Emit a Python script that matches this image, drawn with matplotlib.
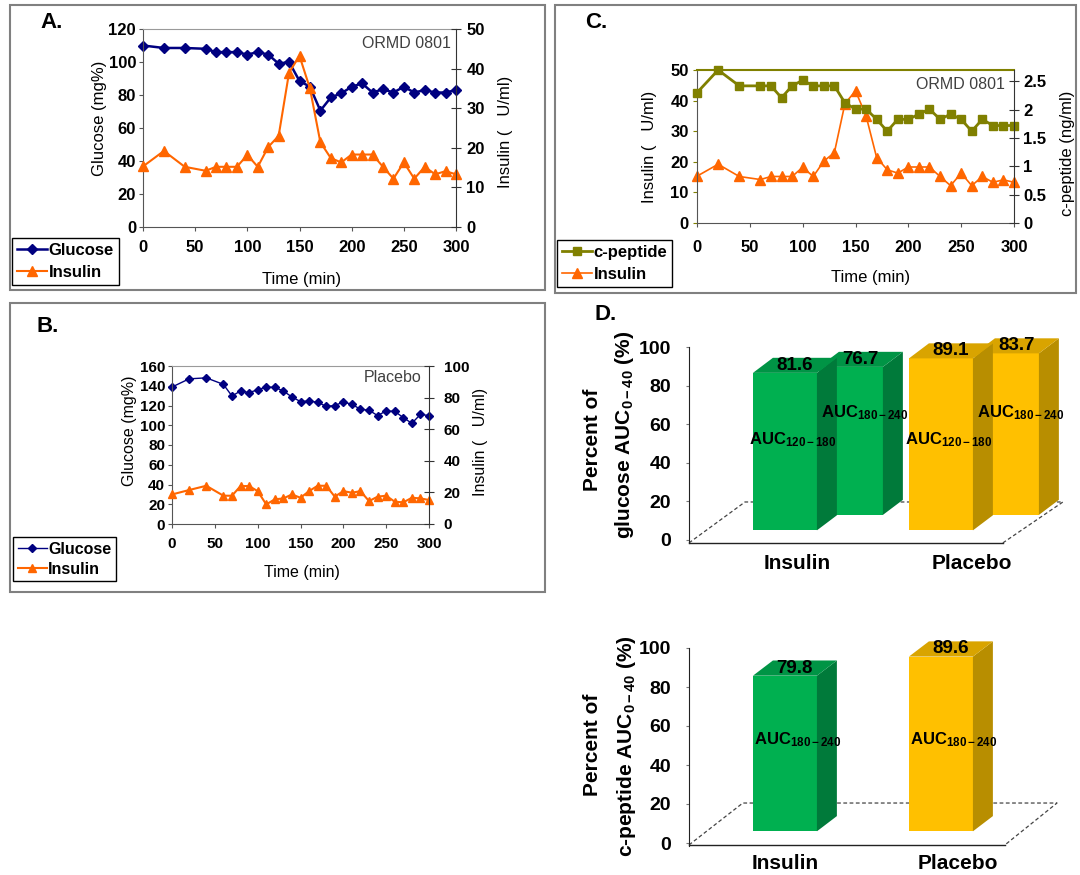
import matplotlib
matplotlib.use('Agg')
import matplotlib.pyplot as plt
from matplotlib.patches import Polygon, Rectangle

plt.rcParams['font.family'] = ['Liberation Sans', 'DejaVu Sans']
plt.rcParams['font.weight'] = 'bold'
plt.rcParams['mathtext.fontset'] = 'custom'
plt.rcParams['mathtext.rm'] = 'Liberation Sans'
plt.rcParams['mathtext.bf'] = 'Liberation Sans:bold'
plt.rcParams['mathtext.it'] = 'Liberation Sans:italic'

# ---- dados ----
time = [0, 20, 40, 60, 70, 80, 90, 100, 110, 120, 130, 140, 150, 160, 170,
        180, 190, 200, 210, 220, 230, 240, 250, 260, 270, 280, 290, 300]

glucose_ormd = [110, 108.5, 108.5, 108, 106, 106, 106, 104.5, 106, 104.5, 99, 100, 88.5, 85, 70.5,
                78.5, 81, 85, 87, 81.5, 83.5, 81.5, 85, 81.5, 83, 81.5, 81.5, 83]
insulin_ormd = [15.3, 19.2, 15.2, 14.2, 15.2, 15.2, 15.2, 18.2, 15.2, 20.2, 23, 39, 43.2, 35, 21.4,
                17.4, 16.3, 18.3, 18.3, 18.3, 15.2, 12.2, 16.3, 12.2, 15.2, 13.3, 14.1, 13.3]
cpeptide_ormd = [2.30, 2.70, 2.42, 2.42, 2.42, 2.21, 2.42, 2.52, 2.42, 2.42, 2.42, 2.12, 2.01, 2.01, 1.83,
                 1.62, 1.83, 1.83, 1.92, 2.01, 1.83, 1.92, 1.83, 1.62, 1.83, 1.72, 1.72, 1.72]

glucose_placebo = [138.7, 147, 148, 141.4, 129.6, 134.7, 133, 136, 138.7, 138.4, 134.7, 128.6, 124, 124.6, 123.2,
                   119.2, 119.9, 123.6, 121.2, 116.2, 115.2, 109.8, 114.5, 114.1, 107.7, 102, 111, 109.8]
insulin_placebo = [18.7, 21.5, 24.2, 17.9, 17.9, 24, 24, 20.8, 12.4, 15.6, 16.2, 18.7, 16.6, 20.8, 24.2,
                   24.2, 17.3, 20.8, 19.8, 20.8, 14.5, 17.3, 17.9, 14.1, 13.7, 16.6, 16.2, 15.2]

groups = ['Insulin', 'Placebo']
gluc_auc_120_180 = [81.6, 89.1]
gluc_auc_180_240 = [76.7, 83.7]
cpep_auc_180_240 = [79.8, 89.6]

NAVY = '#000080'
ORANGE = '#FF6600'
OLIVE = '#808000'
GREEN = ('#00B050', '#007A3A', '#009445')
YELLOW = ('#FFC000', '#B88E00', '#D9A400')

W, H = 1080, 875
fig = plt.figure(figsize=(W / 100, H / 100), dpi=100)


def px_axes(x0, y0, x1, y1):
    # eixos posicionados em pixels da figura
    return fig.add_axes([x0 / W, 1 - y1 / H, (x1 - x0) / W, (y1 - y0) / H])


def frame(x0, y0, x1, y1):
    fig.add_artist(Rectangle((x0 / W, 1 - y1 / H), (x1 - x0) / W, (y1 - y0) / H,
                             transform=fig.transFigure, fill=False, ec='#808080', lw=1.5))


def style_twin(ax, ax2, size, lpad, rpad, xpad):
    ax.set_xlim(0, 300)
    ax.set_xticks(range(0, 301, 50))
    for s in ('left', 'bottom'):
        ax.spines[s].set_color('#555555')
    ax.spines['top'].set_color('#9A9A9A')
    ax.spines['right'].set_visible(False)
    for s in ('left', 'top', 'bottom'):
        ax2.spines[s].set_visible(False)
    ax2.spines['right'].set_color('#333333')
    ax.tick_params(axis='y', direction='out', length=3, pad=lpad, labelsize=size, color='#555555')
    ax.tick_params(axis='x', direction='out', length=3, pad=xpad, labelsize=size, color='#555555')
    ax2.tick_params(axis='y', direction='inout', length=7, pad=rpad, labelsize=size, color='#333333')


# ---------------- painel A ----------------
frame(10, 5, 545, 290)
axA = px_axes(143, 29, 456, 227)
lgA, = axA.plot(time, glucose_ormd, color=NAVY, marker='D', ms=5.5, lw=1.8, clip_on=False, label='Glucose')
axA2 = axA.twinx()
liA, = axA2.plot(time, insulin_ormd, color=ORANGE, marker='^', ms=7, lw=1.5, clip_on=False, label='Insulin')
axA.set_ylim(0, 120)
axA.set_yticks(range(0, 121, 20))
axA2.set_ylim(0, 50)
axA2.set_yticks(range(0, 51, 10))
style_twin(axA, axA2, 12, 2, 4, 6)
axA.set_ylabel('Glucose (mg%)', fontsize=12)
axA.yaxis.set_label_coords(-0.115, 0.55)
axA2.set_ylabel('Insulin (   U/ml)', fontsize=12)
axA2.yaxis.set_label_coords(1.134, 0.48)
axA.set_xlabel('Time (min)', fontsize=12)
axA.xaxis.set_label_coords(0.508, -0.227)
axA.text(0.985, 0.929, 'ORMD 0801', transform=axA.transAxes, ha='right', va='center',
         fontsize=11.5, fontweight='normal', color='#404040')
fig.text(40 / W, 1 - 22 / H, 'A.', fontsize=16, va='center')
fig.legend([lgA, liA], ['Glucose', 'Insulin'], loc='upper left', bbox_to_anchor=(12 / W, 1 - 238 / H),
           fontsize=12, handlelength=1.8, handletextpad=0.1, borderpad=0.3, labelspacing=0.4,
           borderaxespad=0, fancybox=False, edgecolor='black', framealpha=1)

# ---------------- painel C ----------------
frame(555, 5, 1076, 293)
axC = px_axes(697, 70, 1014, 223)
liC, = axC.plot(time, insulin_ormd, color=ORANGE, marker='^', ms=6.5, lw=1.2, clip_on=False, label='Insulin')
axC2 = axC.twinx()
cpC, = axC2.plot(time, cpeptide_ormd, color=OLIVE, marker='s', ms=6, lw=2, clip_on=False, label='c-peptide')
axC.set_ylim(0, 50)
axC.set_yticks(range(0, 51, 10))
axC2.set_ylim(0, 2.7)
axC2.set_yticks([0, 0.5, 1, 1.5, 2, 2.5])
axC2.set_yticklabels(['0', '0.5', '1', '1.5', '2', '2.5'])
style_twin(axC, axC2, 12, 3, 3, 9)
axC.spines['top'].set_color(OLIVE)
axC.spines['top'].set_linewidth(1.5)
axC.tick_params(axis='y', color=OLIVE)
axC.set_ylabel('Insulin (   U/ml)', fontsize=12)
axC.yaxis.set_label_coords(-0.126, 0.497)
axC2.set_ylabel('c-peptide (ng/ml)', fontsize=12)
axC2.yaxis.set_label_coords(1.145, 0.458)
axC.set_xlabel('Time (min)', fontsize=12)
axC.xaxis.set_label_coords(0.546, -0.307)
axC.text(0.972, 0.908, 'ORMD 0801', transform=axC.transAxes, ha='right', va='center',
         fontsize=11.5, fontweight='normal', color='#404040')
fig.text(585 / W, 1 - 22 / H, 'C.', fontsize=16, va='center')
fig.legend([cpC, liC], ['c-peptide', 'Insulin'], loc='upper left', bbox_to_anchor=(557 / W, 1 - 240 / H),
           fontsize=12, handlelength=1.8, handletextpad=0.1, borderpad=0.3, labelspacing=0.4,
           borderaxespad=0, fancybox=False, edgecolor='black', framealpha=1)

# ---------------- painel B ----------------
frame(10, 303, 545, 592)
axB = px_axes(172, 366, 429, 524)
lgB, = axB.plot(time, glucose_placebo, color=NAVY, marker='D', ms=4.5, lw=1, clip_on=False, label='Glucose')
axB2 = axB.twinx()
liB, = axB2.plot(time, insulin_placebo, color=ORANGE, marker='^', ms=6, lw=1.5, clip_on=False, label='Insulin')
axB.set_ylim(0, 160)
axB.set_yticks(range(0, 161, 20))
axB2.set_ylim(0, 100)
axB2.set_yticks(range(0, 101, 20))
style_twin(axB, axB2, 11, 2, 7, 6)
axB.set_ylabel('Glucose (mg%)', fontsize=11.5)
axB.yaxis.set_label_coords(-0.136, 0.589)
axB2.set_ylabel('Insulin (   U/ml)', fontsize=11.5)
axB2.yaxis.set_label_coords(1.171, 0.519)
axB.set_xlabel('Time (min)', fontsize=11.5)
axB.xaxis.set_label_coords(0.506, -0.259)
axB.text(0.971, 0.93, 'Placebo', transform=axB.transAxes, ha='right', va='center',
         fontsize=11.5, fontweight='normal', color='#404040')
fig.text(37 / W, 1 - 327 / H, 'B.', fontsize=16, va='center')
fig.legend([lgB, liB], ['Glucose', 'Insulin'], loc='upper left', bbox_to_anchor=(13 / W, 1 - 537 / H),
           fontsize=11.5, handlelength=1.8, handletextpad=0.1, borderpad=0.3, labelspacing=0.3,
           borderaxespad=0, fancybox=False, edgecolor='black', framealpha=1)


# ---------------- painel D (barras 3D) ----------------
BW, DX, DY = 0.41, 0.128, 7.8


def bar3d(ax, x, val, base, colors, z):
    front, side, top = colors
    ax.bar(x, val, width=BW, bottom=base, color=front, lw=0, zorder=z)
    t = base + val
    l, r = x - BW / 2, x + BW / 2
    ax.add_patch(Polygon([(r, base), (r + DX, base + DY), (r + DX, t + DY), (r, t)],
                         closed=True, fc=side, ec='none', zorder=z))
    ax.add_patch(Polygon([(l, t), (l + DX, t + DY), (r + DX, t + DY), (r, t)],
                         closed=True, fc=top, ec='none', zorder=z))
    outline = Polygon([(l, base), (r, base), (r + DX, base + DY), (r + DX, t + DY), (l, t)],
                      closed=True, transform=ax.transData)
    return t, outline


def auc_label(ax, x, y, sub, outline):
    txt = ax.text(x, y, 'AUC$_{\\mathrm{' + sub + '}}$', ha='center', va='center', fontsize=12, zorder=6)
    txt.set_clip_path(outline)


def bar_axes(y0px, y100px):
    s = (y0px - y100px) / 100.0
    ax = px_axes(689, y0px - 110 * s, 689 + 2.465 * 156, y0px + 3 * s)
    ax.set_xlim(-0.615, 1.85)
    ax.set_ylim(-3, 110)
    for sp in ('top', 'right', 'bottom'):
        ax.spines[sp].set_visible(False)
    ax.spines['left'].set_bounds(-1.5, 100)
    ax.spines['left'].set_color('#222222')
    ax.set_xticks([])
    ax.set_yticks(range(0, 101, 20))
    ax.tick_params(axis='y', direction='out', length=2, pad=11, labelsize=14, color='#777777')
    ax.patch.set_alpha(0)
    return ax


def floor(ax, back_y, fl_y, bl_x, br_x, fr_x):
    ax.plot([-0.615, fr_x], [fl_y, fl_y], color='#222222', lw=1, zorder=1, clip_on=False)
    ax.plot([-0.615, bl_x, br_x, fr_x], [fl_y, back_y, back_y, fl_y], color='#444444', lw=0.9,
            ls=(0, (3, 2)), zorder=1, clip_on=False)


# glicose
axD = bar_axes(540, 347)
floor(axD, 19.7, -1.5, -0.256, 1.782, 1.397)
SHIFT = 0.423
for i in range(len(groups)):
    t, ol = bar3d(axD, i + SHIFT, gluc_auc_180_240[i], 13, GREEN if i == 0 else YELLOW, 2)
    axD.text(i + SHIFT + DX / 2, t + DY / 2, f'{gluc_auc_180_240[i]:.1f}', ha='center', va='center',
             fontsize=13.5, zorder=6)
    auc_label(axD, i + SHIFT + 0.09, 66, '180-240', ol)
for i in range(len(groups)):
    t, ol = bar3d(axD, i, gluc_auc_120_180[i], 5, GREEN if i == 0 else YELLOW, 3)
    axD.text(i + DX / 2, t + DY / 2, f'{gluc_auc_120_180[i]:.1f}', ha='center', va='center',
             fontsize=13.5, zorder=6)
    auc_label(axD, i + 0.05, 52, '120-180', ol)
for i, g in enumerate(groups):
    axD.text(i + (0.08 if i == 0 else 0.2), -12, g, ha='center', va='center', fontsize=15)
fig.text(595 / W, 1 - 315 / H, 'D.', fontsize=16, va='center')
fig.text(592 / W, 1 - 440 / H, 'Percent of', rotation=90, ha='center', va='center', fontsize=15)
fig.text(625 / W, 1 - 435 / H, 'glucose AUC$_{\\mathbf{0-40}}$ (%)', rotation=90, ha='center',
         va='center', fontsize=15)

# c-peptide
axE = bar_axes(843, 648)
floor(axE, 20.5, -1, -0.27, 1.744, 1.41)
for i in range(len(groups)):
    t, ol = bar3d(axE, i, cpep_auc_180_240[i], 6, GREEN if i == 0 else YELLOW, 3)
    axE.text(i + DX / 2, t + DY / 2, f'{cpep_auc_180_240[i]:.1f}', ha='center', va='center',
             fontsize=13.5, zorder=6)
    auc_label(axE, i + 0.08, 53, '180-240', ol)
for i, g in enumerate(groups):
    axE.text(i + (0.0 if i == 0 else 0.11), -10.5, g, ha='center', va='center', fontsize=15)
fig.text(592 / W, 1 - 745 / H, 'Percent of', rotation=90, ha='center', va='center', fontsize=15)
fig.text(627 / W, 1 - 746 / H, 'c-peptide AUC$_{\\mathbf{0-40}}$ (%)', rotation=90, ha='center',
         va='center', fontsize=15)

fig.savefig('out.png', dpi=100)
